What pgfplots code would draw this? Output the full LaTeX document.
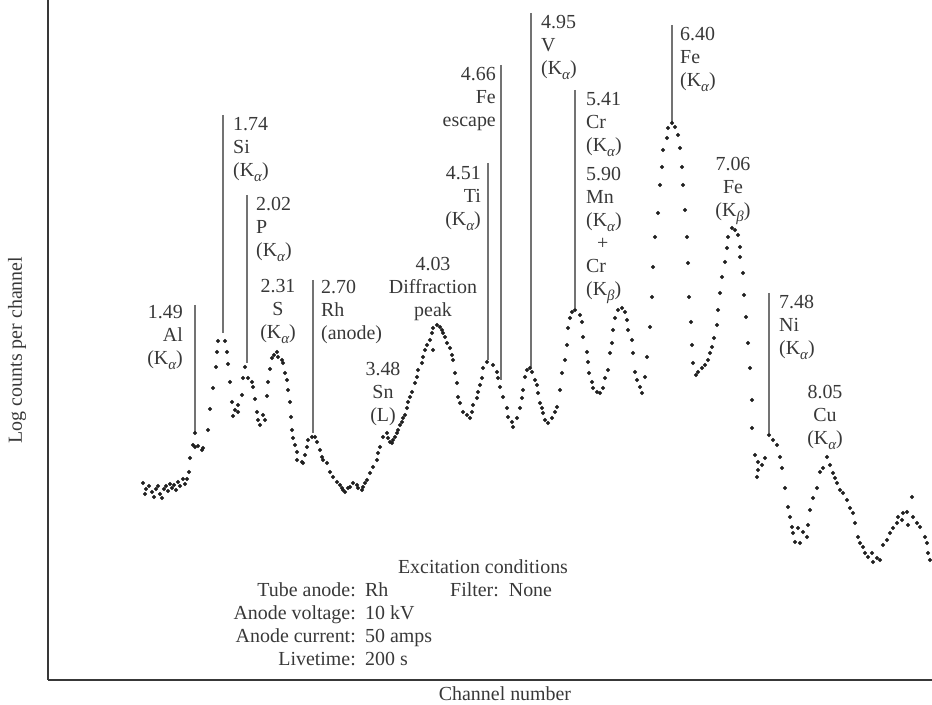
\documentclass[border=0pt]{standalone}
\usepackage{pgfplots}
\pgfplotsset{compat=1.18}
\usepackage{fontspec}
\setmainfont{Liberation Serif}
\newcommand{\lf}{\fontsize{20}{23}\selectfont}
\newcommand{\ka}{(K\raisebox{-0.28em}{\fontsize{15}{15}\selectfont\itshape α})}
\newcommand{\kb}{(K\raisebox{-0.28em}{\fontsize{15}{15}\selectfont\itshape β})}
\definecolor{ink}{gray}{0.22}
\definecolor{dotc}{gray}{0.12}
\definecolor{linec}{gray}{0.45}
\begin{document}
\begin{tikzpicture}[font=\lf, every node/.style={text=ink}]
\begin{axis}[
  at={(48bp,25bp)}, anchor=south west,
  scale only axis, width=884bp, height=680bp,
  xmin=48, xmax=932, ymin=0, ymax=680,
  axis x line=bottom, axis y line=left,
  axis line style={-, draw=ink, line width=1.4bp},
  xtick=\empty, ytick=\empty,
  clip=false,
  xlabel={Channel number},
  ylabel={Log counts per channel},
  xlabel style={at={(axis cs:505,-21)}, anchor=base, inner sep=0pt},
  ylabel style={at={(axis cs:17,330)}, anchor=center, inner sep=0pt},
]
\addplot[only marks, mark=*, mark size=1.8bp, mark options={draw=dotc, fill=dotc}]
  table[x=px, y expr=680-\thisrow{py}] {
px py
143 483
146 489
145 494
149 486
152 492
154 497
156 489
158 486
160 494
162 498
164 489
166 486
168 491
170 484
172 488
174 485
176 490
178 482
180 486
183 479
185 484
187 479
189 472
190 458
193 445
195 447
198 446
202 450
203 448
195 433
208 430
210 409
213 388
216 367
217 352
218 341
225 341
227 352
228 364
230 382
232 402
233 416
235 410
238 405
238 412
242 395
243 378
245 367
248 378
252 382
253 387
255 399
257 412
258 420
260 425
263 415
265 420
267 396
268 382
270 369
272 358
274 355
277 352
278 357
282 360
283 363
285 373
287 380
288 390
290 402
291 417
292 430
293 438
295 445
297 452
297 460
302 462
303 463
305 455
307 447
308 440
312 437
315 437
317 442
320 450
322 457
323 460
327 463
330 472
333 477
337 482
340 485
342 488
343 490
345 492
348 488
350 487
353 483
357 485
358 488
362 490
363 487
365 483
367 480
370 473
373 467
377 460
378 453
380 447
383 437
387 433
388 438
390 442
392 443
393 440
395 437
397 433
398 430
400 425
402 422
403 418
405 415
407 408
408 402
410 397
412 392
415 383
417 377
418 370
422 363
423 357
425 350
427 345
430 340
432 333
433 328
433 350
437 325
440 327
442 330
443 333
445 337
447 343
450 348
452 355
453 360
455 373
457 383
458 397
460 403
463 412
467 415
470 418
472 412
473 405
477 398
478 392
480 385
482 378
483 368
487 362
493 365
497 372
498 378
500 387
503 397
507 408
508 417
512 422
513 427
517 418
520 408
522 398
523 390
525 377
527 370
530 368
532 372
535 380
537 385
538 393
540 403
542 408
543 413
545 420
548 423
552 418
555 412
557 407
560 390
562 373
565 360
567 345
568 328
570 318
572 312
575 310
580 315
582 322
583 337
587 352
588 362
589 373
592 382
593 388
597 392
600 393
603 388
605 378
608 370
610 353
612 343
613 330
615 318
618 310
622 308
625 312
627 320
628 330
632 340
633 353
635 372
637 380
640 387
642 393
645 377
647 357
650 327
652 297
653 267
655 237
658 213
660 185
662 167
663 150
667 138
668 128
672 123
675 127
678 135
680 148
682 167
683 185
685 210
687 237
688 263
689 297
691 322
692 345
693 363
696 375
698 372
702 368
705 365
708 360
710 353
712 347
714 338
717 325
718 310
720 293
722 277
725 262
727 248
728 237
732 228
735 230
738 235
740 247
740 257
743 273
744 295
746 317
748 343
750 368
752 400
752 428
755 455
757 477
758 462
758 470
762 465
765 458
769 435
773 440
777 445
780 457
782 468
785 488
788 507
790 517
792 527
793 533
795 542
798 528
800 543
803 532
807 537
808 525
810 510
813 498
817 488
820 472
823 468
827 457
830 465
833 473
835 478
837 483
840 490
843 493
847 500
850 508
853 513
855 523
858 537
860 543
863 547
865 553
868 557
872 553
873 562
877 558
880 560
883 545
887 540
890 533
893 528
897 523
898 517
902 520
903 513
907 512
908 525
912 497
913 517
917 523
920 527
925 537
927 543
928 553
930 560
};
% marker lines
\draw[linec, line width=1.3bp] (axis cs:195,375) -- (axis cs:195,247);
\draw[linec, line width=1.3bp] (axis cs:223,565) -- (axis cs:223,347);
\draw[linec, line width=1.3bp] (axis cs:247,485) -- (axis cs:247,317);
\draw[linec, line width=1.3bp] (axis cs:313,400) -- (axis cs:313,247);
\draw[linec, line width=1.3bp] (axis cs:488,517) -- (axis cs:488,320);
\draw[linec, line width=1.3bp] (axis cs:501,615) -- (axis cs:501,300);
\draw[linec, line width=1.3bp] (axis cs:531,667) -- (axis cs:531,313);
\draw[linec, line width=1.3bp] (axis cs:575,590) -- (axis cs:575,372);
\draw[linec, line width=1.3bp] (axis cs:672,655) -- (axis cs:672,558);
\draw[linec, line width=1.3bp] (axis cs:769,387) -- (axis cs:769,247);
% labels
\node[anchor=north east, align=right, inner sep=0pt] at (axis cs:183,375) {1.49\\Al\\\ka};
\node[anchor=north west, align=left, inner sep=0pt] at (axis cs:233,563) {1.74\\Si\\\ka};
\node[anchor=north west, align=left, inner sep=0pt] at (axis cs:256,483) {2.02\\P\\\ka};
\node[anchor=north, align=center, inner sep=0pt] at (axis cs:278,401) {2.31\\S\\\ka};
\node[anchor=north west, align=left, inner sep=0pt] at (axis cs:321,400) {2.70\\Rh\\(anode)};
\node[anchor=north, align=center, inner sep=0pt] at (axis cs:383,318) {3.48\\Sn\\(L)};
\node[anchor=north, align=center, inner sep=0pt] at (axis cs:433,423) {4.03\\Diffraction\\peak};
\node[anchor=north east, align=right, inner sep=0pt] at (axis cs:481,514) {4.51\\Ti\\\ka};
\node[anchor=north east, align=right, inner sep=0pt] at (axis cs:496,613) {4.66\\Fe\\escape};
\node[anchor=north west, align=left, inner sep=0pt] at (axis cs:541,665) {4.95\\V\\\ka};
\node[anchor=north west, align=left, inner sep=0pt] at (axis cs:586,588) {5.41\\Cr\\\ka};
\node[anchor=north west, align=left, inner sep=0pt] at (axis cs:586,513) {5.90\\Mn\\\ka\\\hspace*{11bp}+\\Cr\\\kb};
\node[anchor=north west, align=left, inner sep=0pt] at (axis cs:680,653) {6.40\\Fe\\\ka};
\node[anchor=north, align=center, inner sep=0pt] at (axis cs:733,523) {7.06\\Fe\\\kb};
\node[anchor=north west, align=left, inner sep=0pt] at (axis cs:779,385) {7.48\\Ni\\\ka};
\node[anchor=north, align=center, inner sep=0pt] at (axis cs:825,295) {8.05\\Cu\\\ka};
% excitation conditions
\node[anchor=base, inner sep=0pt] at (axis cs:483,106) {Excitation conditions};
\node[anchor=base east, inner sep=0pt] at (axis cs:356,83) {Tube anode:};
\node[anchor=base west, inner sep=0pt] at (axis cs:365,83) {Rh};
\node[anchor=base west, inner sep=0pt] at (axis cs:450,83) {Filter:\ \ None};
\node[anchor=base east, inner sep=0pt] at (axis cs:356,60) {Anode voltage:};
\node[anchor=base west, inner sep=0pt] at (axis cs:365,60) {10 kV};
\node[anchor=base east, inner sep=0pt] at (axis cs:356,37) {Anode current:};
\node[anchor=base west, inner sep=0pt] at (axis cs:365,37) {50 amps};
\node[anchor=base east, inner sep=0pt] at (axis cs:356,14) {Livetime:};
\node[anchor=base west, inner sep=0pt] at (axis cs:365,14) {200 s};
\end{axis}
\pgfresetboundingbox
\path (0,0) rectangle (932bp,705bp);
\end{tikzpicture}
\end{document}
